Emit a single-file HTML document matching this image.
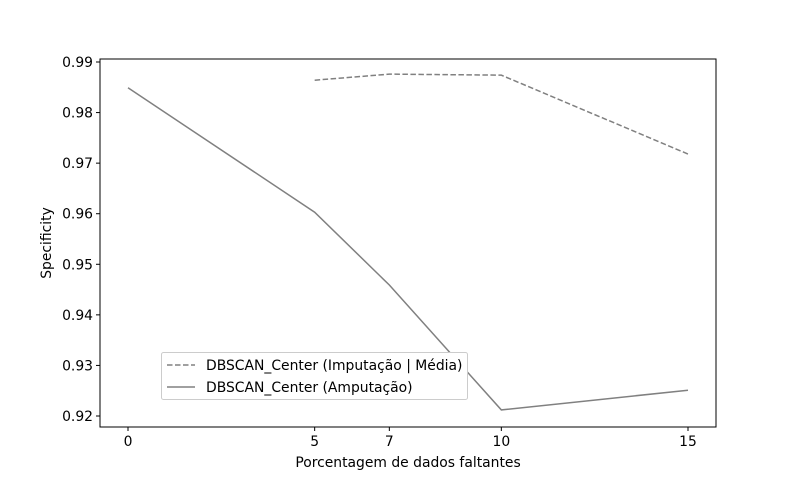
<!DOCTYPE html>
<html><head><meta charset="utf-8"><style>
body{margin:0;background:#fff;font-family:"Liberation Sans","DejaVu Sans",sans-serif;}
svg text{font-family:"DejaVu Sans","Liberation Sans",sans-serif;font-size:13.9px;fill:#000;}
</style></head><body>
<svg id="chart" width="796" height="480"></svg>
<script>
const categories=[0,5,7,10,15];
const dashedX=[5,7,10,15];
const dashedVals=[0.9864,0.9876,0.9874,0.9718];
const solidX=[0,5,7,10,15];
const solidVals=[0.9849,0.9603,0.9459,0.9212,0.9251];
const yTicks=[0.92,0.93,0.94,0.95,0.96,0.97,0.98,0.99];
const NS="http://www.w3.org/2000/svg";
const svg=document.getElementById('chart');
const L=100,R=716,T=59,B=427;
const xs=v=>128+(v-0)*(688-128)/15;
const ys=v=>416-(v-0.92)*(416-62)/0.07;
function el(tag,attrs,parent){const e=document.createElementNS(NS,tag);for(const k in attrs)e.setAttribute(k,attrs[k]);(parent||svg).appendChild(e);return e;}
const frame=el('rect',{x:L,y:T,width:R-L,height:B-T,fill:'none',stroke:'#000','stroke-width':1});


categories.forEach(c=>{
 const t=el('line',{x1:xs(c),x2:xs(c),y1:B,y2:B+4,stroke:'#000'});
 
 
 const tx=el('text',{x:xs(c),y:B+19,'text-anchor':'middle'});tx.textContent=c;
 
 
});
yTicks.forEach(v=>{
 const t=el('line',{x1:L-4,x2:L,y1:ys(v),y2:ys(v),stroke:'#000'});
 
 
 const tx=el('text',{x:L-7,y:ys(v)+5,'text-anchor':'end'});tx.textContent=v.toFixed(2);
 
 
});
const xt=el('text',{x:408,y:467,'text-anchor':'middle'});xt.textContent='Porcentagem de dados faltantes';


const yt=el('text',{x:51,y:243,'text-anchor':'middle',transform:'rotate(-90 51 243)'});yt.textContent='Specificity';


const dl=el('polyline',{points:dashedX.map((x,i)=>xs(x)+','+ys(dashedVals[i])).join(' '),fill:'none',stroke:'#808080','stroke-width':1.5,'stroke-dasharray':'5.5,2.5'});


const sl=el('polyline',{points:solidX.map((x,i)=>xs(x)+','+ys(solidVals[i])).join(' '),fill:'none',stroke:'#808080','stroke-width':1.5});


const lg=el('g',{});


el('rect',{x:161.5,y:352.5,width:306,height:47,fill:'#fff',stroke:'#ccc',rx:2},lg);
el('line',{x1:167,x2:195,y1:365,y2:365,stroke:'#808080','stroke-width':1.5,'stroke-dasharray':'5.5,2.5'},lg);
const l1=el('text',{x:206,y:370},lg);l1.textContent='DBSCAN_Center (Imputação | Média)';


el('line',{x1:167,x2:195,y1:387,y2:387,stroke:'#808080','stroke-width':1.5},lg);
const l2=el('text',{x:206,y:392},lg);l2.textContent='DBSCAN_Center (Amputação)';


</script>
</body></html>
